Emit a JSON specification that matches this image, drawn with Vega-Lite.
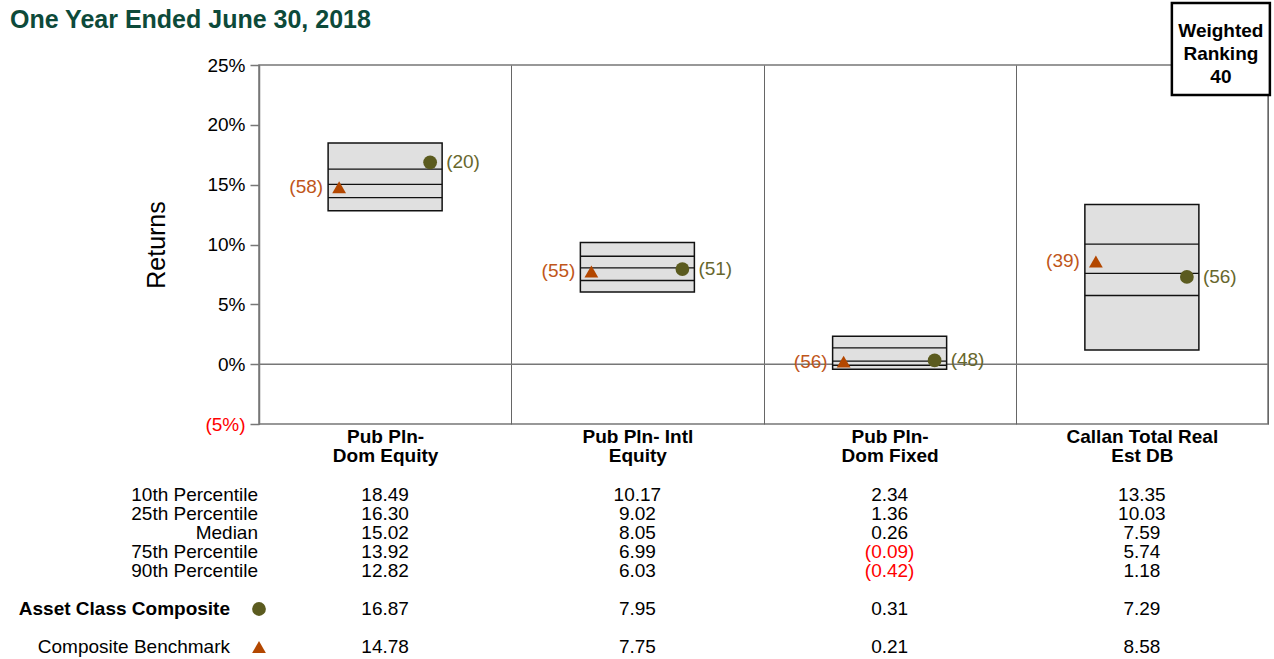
{
  "$schema": "https://vega.github.io/schema/vega-lite/v6.json",
  "width": 1009,
  "height": 359,
  "autosize": {"type": "none"},
  "padding": {"left": 259, "top": 65, "right": 6, "bottom": 235},
  "background": "white",
  "config": {
    "font": "Liberation Sans",
    "view": {"stroke": "#777777", "strokeWidth": 1.5}
  },
  "title": {
    "text": "One Year Ended June 30, 2018",
    "anchor": "start",
    "frame": "group",
    "dx": -249,
    "offset": -51,
    "baseline": "alphabetic",
    "fontSize": 25,
    "fontWeight": "bold",
    "color": "#0d4a3a"
  },
  "datasets": {
    "boxes": [
      {"cat": "Pub Pln-|Dom Equity", "p10": 18.49, "p25": 16.30, "p50": 15.02, "p75": 13.92, "p90": 12.82, "comp": 16.87, "compRank": "(20)", "bench": 14.78, "benchRank": "(58)"},
      {"cat": "Pub Pln- Intl|Equity", "p10": 10.17, "p25": 9.02, "p50": 8.05, "p75": 6.99, "p90": 6.03, "comp": 7.95, "compRank": "(51)", "bench": 7.75, "benchRank": "(55)"},
      {"cat": "Pub Pln-|Dom Fixed", "p10": 2.34, "p25": 1.36, "p50": 0.26, "p75": -0.09, "p90": -0.42, "comp": 0.31, "compRank": "(48)", "bench": 0.21, "benchRank": "(56)"},
      {"cat": "Callan Total Real|Est DB", "p10": 13.35, "p25": 10.03, "p50": 7.59, "p75": 5.74, "p90": 1.18, "comp": 7.29, "compRank": "(56)", "bench": 8.58, "benchRank": "(39)"}
    ],
    "rows": [
      {"key": "p10", "label": "10th Percentile", "row": 0},
      {"key": "p25", "label": "25th Percentile", "row": 1},
      {"key": "p50", "label": "Median", "row": 2},
      {"key": "p75", "label": "75th Percentile", "row": 3},
      {"key": "p90", "label": "90th Percentile", "row": 4},
      {"key": "comp", "label": "Asset Class Composite", "row": 6},
      {"key": "bench", "label": "Composite Benchmark", "row": 8}
    ],
    "ranking": [
      {"label": "Weighted|Ranking|40"}
    ]
  },
  "resolve": {"scale": {"y": "independent"}},
  "layer": [
    {
      "layer": [
        {
          "data": {"values": [{}]},
          "mark": {"type": "rule", "color": "#777777", "strokeWidth": 1.5},
          "encoding": {"y": {"datum": 0, "type": "quantitative"}}
        },
        {
          "data": {"name": "boxes"},
          "mark": {"type": "bar", "fill": "#e0e0e0", "stroke": "#111111", "strokeWidth": 1.5, "width": {"band": 0.452}},
          "encoding": {
            "x": {
              "field": "cat",
              "type": "nominal",
              "sort": null,
              "scale": {"domain": ["Pub Pln-|Dom Equity", "Pub Pln- Intl|Equity", "Pub Pln-|Dom Fixed", "Callan Total Real|Est DB"], "paddingInner": 0, "paddingOuter": 0},
              "axis": {
                "title": null,
                "orient": "bottom",
                "labelExpr": "split(datum.label, '|')",
                "labelAngle": 0,
                "labelFontSize": 19,
                "labelFontWeight": "bold",
                "labelColor": "#000000",
                "labelLineHeight": 19,
                "labelPadding": 3,
                "ticks": false,
                "domain": false,
                "grid": true,
                "gridColor": "#666666",
                "gridWidth": 1,
                "tickBand": "extent"
              }
            },
            "y": {
              "field": "p90",
              "type": "quantitative",
              "scale": {"domain": [-5, 25], "nice": false, "zero": false},
              "axis": {
                "values": [-5, 0, 5, 10, 15, 20, 25],
                "labelExpr": "datum.value < 0 ? '(' + abs(datum.value) + '%)' : datum.value + '%'",
                "labelColor": {"condition": {"test": "datum.value < 0", "value": "#ff0000"}, "value": "#000000"},
                "labelFontSize": 19,
                "labelPadding": 5,
                "tickSize": 9,
                "tickColor": "#777777",
                "tickWidth": 1.5,
                "domainColor": "#777777",
                "domainWidth": 1.5,
                "grid": false,
                "title": "Returns",
                "titleFontSize": 25,
                "titleFontWeight": "normal",
                "titleColor": "#000000",
                "titlePadding": 35
              }
            },
            "y2": {"field": "p10"}
          }
        },
        {
          "data": {"name": "boxes"},
          "transform": [{"fold": ["p25", "p50", "p75"], "as": ["key", "value"]}],
          "mark": {"type": "tick", "color": "#111111", "opacity": 1, "thickness": 1.3, "size": 114},
          "encoding": {
            "x": {"field": "cat", "type": "nominal"},
            "y": {"field": "value", "type": "quantitative"}
          }
        },
        {
          "data": {"name": "boxes"},
          "mark": {"type": "point", "shape": "circle", "filled": true, "opacity": 1, "size": 190, "color": "#5b5b1f", "xOffset": 45},
          "encoding": {
            "x": {"field": "cat", "type": "nominal"},
            "y": {"field": "comp", "type": "quantitative"}
          }
        },
        {
          "data": {"name": "boxes"},
          "mark": {"type": "point", "shape": "triangle-up", "filled": true, "opacity": 1, "size": 190, "color": "#b34700", "xOffset": -46},
          "encoding": {
            "x": {"field": "cat", "type": "nominal"},
            "y": {"field": "bench", "type": "quantitative"}
          }
        },
        {
          "data": {"name": "boxes"},
          "mark": {"type": "text", "align": "left", "baseline": "middle", "fontSize": 19, "color": "#67672d", "xOffset": 45, "dx": 16},
          "encoding": {
            "x": {"field": "cat", "type": "nominal"},
            "y": {"field": "comp", "type": "quantitative"},
            "text": {"field": "compRank"}
          }
        },
        {
          "data": {"name": "boxes"},
          "mark": {"type": "text", "align": "right", "baseline": "middle", "fontSize": 19, "color": "#c0561a", "xOffset": -46, "dx": -16},
          "encoding": {
            "x": {"field": "cat", "type": "nominal"},
            "y": {"field": "bench", "type": "quantitative"},
            "text": {"field": "benchRank"}
          }
        },
        {
          "data": {"name": "ranking"},
          "mark": {"type": "bar", "fill": "#ffffff", "stroke": "#000000", "strokeWidth": 2.5, "width": 98, "xOffset": 79},
          "encoding": {
            "x": {"datum": "Callan Total Real|Est DB", "type": "nominal"},
            "y": {"datum": 30.18, "type": "quantitative"},
            "y2": {"datum": 22.49}
          }
        },
        {
          "data": {"name": "ranking"},
          "mark": {"type": "text", "align": "center", "baseline": "middle", "fontSize": 19, "fontWeight": "bold", "lineHeight": 23, "lineBreak": "|", "color": "#000000", "xOffset": 79},
          "encoding": {
            "x": {"datum": "Callan Total Real|Est DB", "type": "nominal"},
            "y": {"datum": 27.84, "type": "quantitative"},
            "text": {"field": "label"}
          }
        }
      ]
    },
    {
      "layer": [
        {
          "data": {"name": "boxes"},
          "transform": [
            {"fold": ["p10", "p25", "p50", "p75", "p90", "comp", "bench"], "as": ["key", "v"]},
            {"lookup": "key", "from": {"data": {"name": "rows"}, "key": "key", "fields": ["row"]}}
          ],
          "mark": {"type": "text", "align": "center", "baseline": "middle", "fontSize": 19},
          "encoding": {
            "x": {"field": "cat", "type": "nominal"},
            "y": {"field": "row", "type": "quantitative", "scale": {"domain": [-3.737, -22.632], "nice": false, "zero": false}, "axis": null},
            "text": {"field": "v", "type": "quantitative", "format": "(.2f"},
            "color": {"condition": {"test": "datum.v < 0", "value": "#ff0000"}, "value": "#000000"}
          }
        },
        {
          "data": {"name": "rows"},
          "transform": [{"filter": "datum.row <= 4"}],
          "mark": {"type": "text", "align": "right", "baseline": "middle", "fontSize": 19, "color": "#000000", "dx": -1},
          "encoding": {
            "x": {"datum": "Pub Pln-|Dom Equity", "type": "nominal", "bandPosition": 0},
            "y": {"field": "row", "type": "quantitative", "axis": null},
            "text": {"field": "label"}
          }
        },
        {
          "data": {"name": "rows"},
          "transform": [{"filter": "datum.key == 'comp'"}],
          "mark": {"type": "text", "align": "right", "baseline": "middle", "fontSize": 19, "fontWeight": "bold", "color": "#000000", "dx": -29},
          "encoding": {
            "x": {"datum": "Pub Pln-|Dom Equity", "type": "nominal", "bandPosition": 0},
            "y": {"field": "row", "type": "quantitative", "axis": null},
            "text": {"field": "label"}
          }
        },
        {
          "data": {"name": "rows"},
          "transform": [{"filter": "datum.key == 'bench'"}],
          "mark": {"type": "text", "align": "right", "baseline": "middle", "fontSize": 19, "color": "#000000", "dx": -29},
          "encoding": {
            "x": {"datum": "Pub Pln-|Dom Equity", "type": "nominal", "bandPosition": 0},
            "y": {"field": "row", "type": "quantitative", "axis": null},
            "text": {"field": "label"}
          }
        },
        {
          "data": {"name": "rows"},
          "transform": [{"filter": "datum.key == 'comp'"}],
          "mark": {"type": "point", "shape": "circle", "filled": true, "opacity": 1, "size": 190, "color": "#5b5b1f"},
          "encoding": {
            "x": {"datum": "Pub Pln-|Dom Equity", "type": "nominal", "bandPosition": 0},
            "y": {"field": "row", "type": "quantitative", "axis": null}
          }
        },
        {
          "data": {"name": "rows"},
          "transform": [{"filter": "datum.key == 'bench'"}],
          "mark": {"type": "point", "shape": "triangle-up", "filled": true, "opacity": 1, "size": 190, "color": "#b34700"},
          "encoding": {
            "x": {"datum": "Pub Pln-|Dom Equity", "type": "nominal", "bandPosition": 0},
            "y": {"field": "row", "type": "quantitative", "axis": null}
          }
        }
      ]
    }
  ]
}
